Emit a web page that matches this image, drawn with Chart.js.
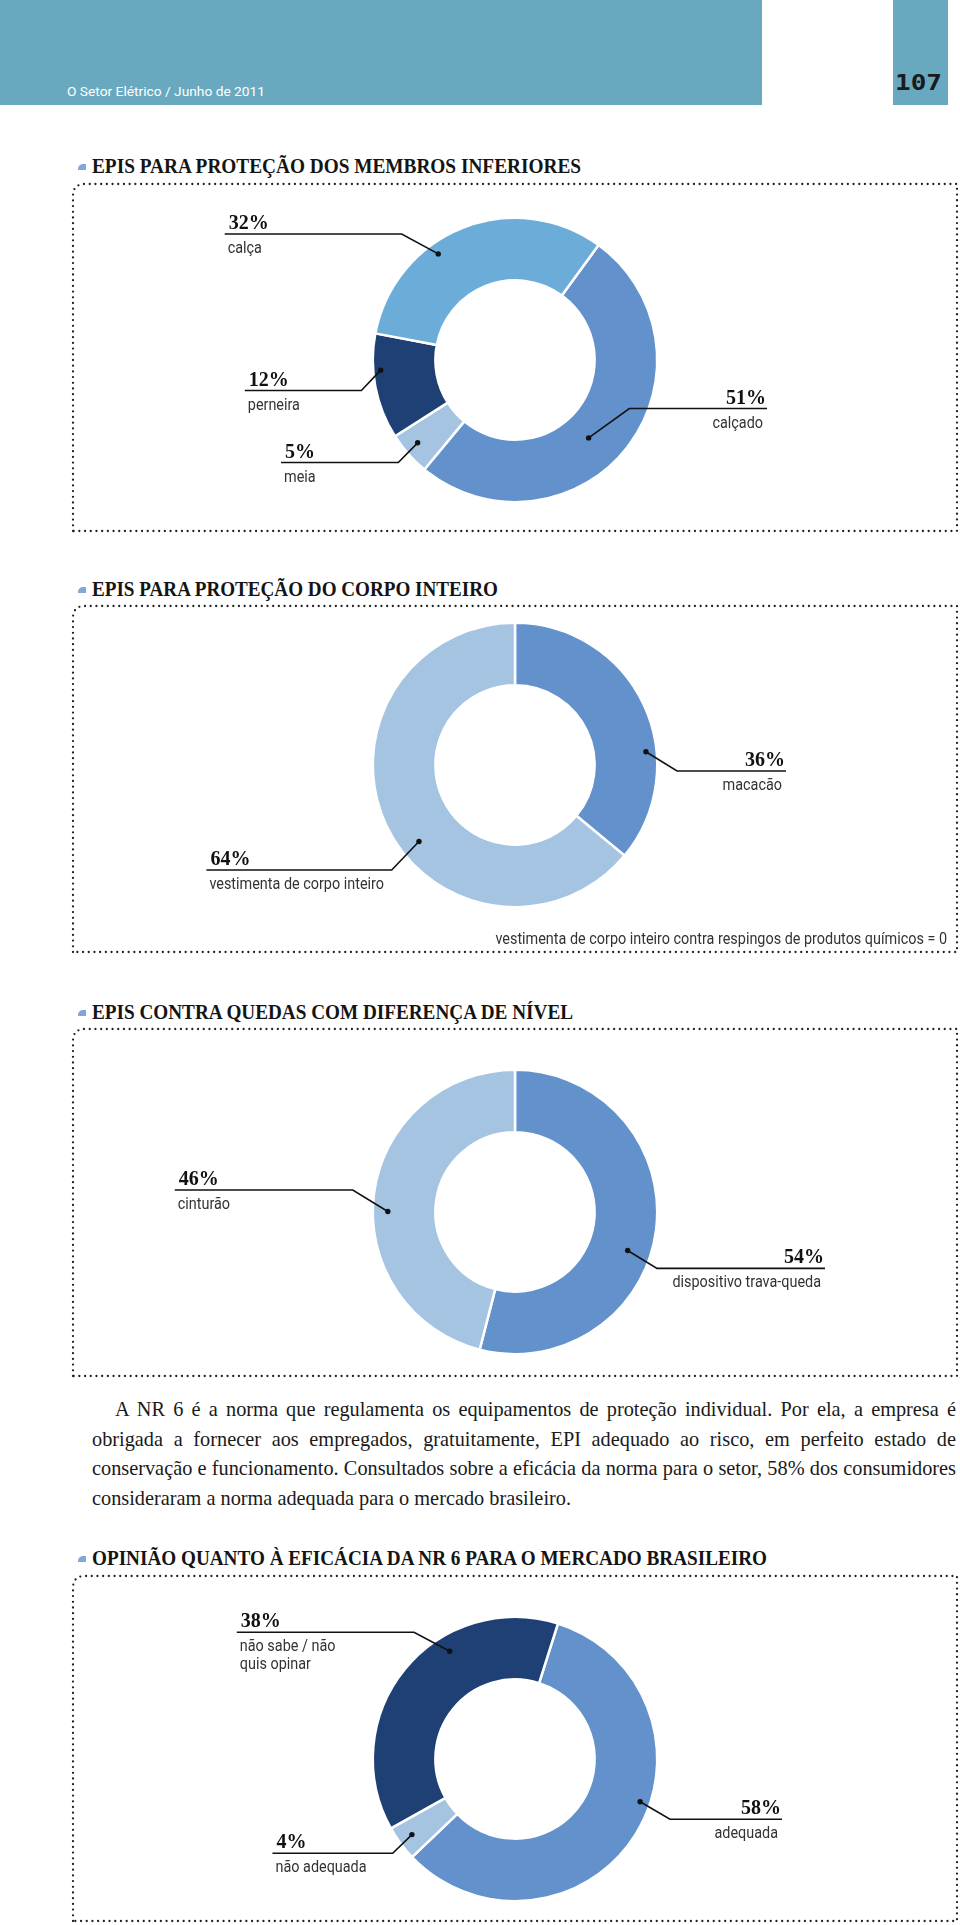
<!DOCTYPE html>
<html><head><meta charset="utf-8">
<script src="https://cdn.jsdelivr.net/npm/chart.js@4.4.1/dist/chart.umd.min.js"></script>
<style>
html,body{margin:0;padding:0;background:#fff;overflow:hidden;width:960px;height:1925px;}
#page{position:relative;width:960px;height:1925px;overflow:hidden;}
.abs{position:absolute;}
.band{background:#69a9bf;}
.title{position:absolute;left:92px;height:20px;line-height:20px;font:bold 20px "Liberation Serif",serif;color:#141414;white-space:nowrap;transform-origin:0 50%;}
.bullet{position:absolute;left:78px;width:8px;height:6px;background:#7fa7d8;border-top-left-radius:5px;}
#para{position:absolute;left:92px;width:864px;font-family:"Liberation Serif",serif;color:#1a1a1a;line-height:29.5px;}
#para div{text-align:justify;text-align-last:justify;white-space:nowrap;}
#para div.last{text-align-last:left;}
canvas{position:absolute;left:0;}
</style></head>
<body><div id="page">
<div class="abs band" style="left:0;top:0;width:762px;height:105px;"></div>
<div class="abs band" style="left:893px;top:0;width:55px;height:105px;"></div>
<div id="hdr" class="abs" style="left:67px;top:84px;font:12.5px Roboto,sans-serif;color:#fff;white-space:nowrap;transform-origin:0 50%;">O Setor Elétrico / Junho de 2011</div>
<div id="pnum" class="abs" style="left:895px;top:71px;font:bold 21px 'DejaVu Sans Mono',monospace;color:#1a1a1a;white-space:nowrap;transform-origin:0 50%;line-height:24px;">107</div>

<div class="bullet" style="top:164px;"></div><div class="title" id="t1" style="top:155px;">EPIS PARA PROTEÇÃO DOS MEMBROS INFERIORES</div>
<div class="bullet" style="top:587px;"></div><div class="title" id="t2" style="top:578px;">EPIS PARA PROTEÇÃO DO CORPO INTEIRO</div>
<div class="bullet" style="top:1010px;"></div><div class="title" id="t3" style="top:1001px;">EPIS CONTRA QUEDAS COM DIFERENÇA DE NÍVEL</div>
<div class="bullet" style="top:1556px;"></div><div class="title" id="t4" style="top:1547px;">OPINIÃO QUANTO À EFICÁCIA DA NR 6 PARA O MERCADO BRASILEIRO</div>

<svg class="abs" style="left:0;top:0;" width="960" height="1925">
<g fill="none" stroke="#222" stroke-width="2.3" stroke-linecap="round" stroke-dasharray="0 5.7">
<path d="M73,531 L73,196 Q73,184 85,184 L957,184 L957,531 Z"/>
<path d="M73,952 L73,618 Q73,606 85,606 L957,606 L957,952 Z"/>
<path d="M73,1376 L73,1041 Q73,1029 85,1029 L957,1029 L957,1376 Z"/>
<path d="M73,1921 L73,1588 Q73,1576 85,1576 L957,1576 L957,1921 Z"/>
</g></svg>

<div id="para" style="top:1395px;">
<div style="text-indent:23px;">A NR 6 é a norma que regulamenta os equipamentos de proteção individual. Por ela, a empresa é</div>
<div>obrigada a fornecer aos empregados, gratuitamente, EPI adequado ao risco, em perfeito estado de</div>
<div>conservação e funcionamento. Consultados sobre a eficácia da norma para o setor, 58% dos consumidores</div>
<div class="last">consideraram a norma adequada para o mercado brasileiro.</div>
</div>

<canvas id="c1" width="960" height="380"></canvas>
<canvas id="c2" width="960" height="380"></canvas>
<canvas id="c3" width="960" height="380"></canvas>
<canvas id="c4" width="960" height="380"></canvas>
</div>
<script>
// ---- data ----
const membrosCategorias = ['calçado', 'meia', 'perneira', 'calça'];
const membrosValores = [51, 5, 12, 32];
const corpoCategorias = ['macacão', 'vestimenta de corpo inteiro', 'vestimenta de corpo inteiro contra respingos de produtos químicos'];
const corpoValores = [36, 64, 0];
const quedasCategorias = ['dispositivo trava-queda', 'cinturão'];
const quedasValores = [54, 46];
const opiniaoCategorias = ['adequada', 'não adequada', 'não sabe / não quis opinar'];
const opiniaoValores = [58, 4, 38];

// ---- colours ----
const MED = '#6291cb', SKY = '#6cacd9', NAVY = '#1e4075', PALE = '#a4c4e2';

// ---- text fitting helpers ----
function fitX(id, target) {
  const e = document.getElementById(id);
  const w = e.getBoundingClientRect().width;
  e.style.transform = 'scaleX(' + (target / w) + ')';
}
fitX('t1', 489); fitX('t2', 406); fitX('t3', 481); fitX('t4', 675);
fitX('hdr', 198); fitX('pnum', 47);

(function fitPara() {
  const c = document.createElement('canvas').getContext('2d');
  c.font = '100px "Liberation Serif"';
  const w4 = c.measureText('consideraram a norma adequada para o mercado brasileiro.').width;
  const w3 = c.measureText('conservação e funcionamento. Consultados sobre a eficácia da norma para o setor, 58% dos consumidores').width;
  let size = 100 * 485 / w4;
  size = Math.min(size, 100 * 862 / w3);
  document.getElementById('para').style.fontSize = size.toFixed(2) + 'px';
})();

const LABEL_FONT = '16px Roboto';
const LABEL_SCALE = 0.9;

const leaderPlugin = {
  id: 'leaders',
  afterDatasetsDraw(chart, args, opts) {
    const ctx = chart.ctx;
    const meta = chart.getDatasetMeta(0);
    const ds = chart.data.datasets[0];
    let cx = 0, cy = 0;
    (opts.items || []).forEach(it => {
      const arc = meta.data[it.i];
      const p = arc.getProps(['x', 'y', 'startAngle', 'endAngle', 'innerRadius', 'outerRadius'], true);
      cx = p.x; cy = p.y;
      const a = p.startAngle + it.t * (p.endAngle - p.startAngle);
      const r = p.innerRadius + it.rf * (p.outerRadius - p.innerRadius);
      const dx = p.x + r * Math.cos(a), dy = p.y + r * Math.sin(a);
      const ex = p.x + it.ex, ey = p.y + it.ey, lx = p.x + it.end;
      const left = it.end < 0;
      ctx.save();
      ctx.strokeStyle = '#111'; ctx.lineWidth = 1.6; ctx.lineJoin = 'miter';
      ctx.beginPath(); ctx.moveTo(lx, ey); ctx.lineTo(ex, ey); ctx.lineTo(dx, dy); ctx.stroke();
      ctx.fillStyle = '#111';
      ctx.beginPath(); ctx.arc(dx, dy, 2.7, 0, Math.PI * 2); ctx.fill();
      ctx.font = 'bold 20px "Liberation Serif"';
      ctx.textBaseline = 'alphabetic';
      ctx.textAlign = left ? 'left' : 'right';
      ctx.fillText(ds.data[it.i] + '%', left ? lx + 4 : lx - 1, ey - 5);
      // category label (wrapped)
      ctx.font = LABEL_FONT; ctx.fillStyle = '#333'; ctx.textBaseline = 'middle';
      const words = String(chart.data.labels[it.i]).split(' ');
      const lines = []; let cur = '';
      words.forEach(wd => {
        const test = cur ? cur + ' ' + wd : wd;
        if (it.maxWidth && cur && ctx.measureText(test).width * LABEL_SCALE > it.maxWidth) { lines.push(cur); cur = wd; }
        else cur = test;
      });
      lines.push(cur);
      lines.forEach((ln, k) => {
        ctx.save();
        ctx.translate(left ? lx + 3 : lx - 4, ey + 15 + k * 17.5);
        ctx.scale(LABEL_SCALE, 1);
        ctx.fillText(ln, 0, 0);
        ctx.restore();
      });
      ctx.restore();
    });
    if (opts.note) {
      ctx.save();
      ctx.font = LABEL_FONT; ctx.fillStyle = '#333'; ctx.textBaseline = 'middle'; ctx.textAlign = 'right';
      ctx.translate(opts.note.x, cy + opts.note.dy);
      ctx.scale(LABEL_SCALE, 1);
      ctx.fillText(opts.note.text, 0, 0);
      ctx.restore();
    }
  }
};

function donut(id, cy, labels, values, colors, rotation, items, note) {
  const cv = document.getElementById(id);
  cv.style.top = (cy - 180) + 'px';
  return new Chart(cv, {
    type: 'doughnut',
    data: { labels: labels, datasets: [{ data: values, backgroundColor: colors, borderColor: '#ffffff', borderWidth: 2.5, hoverOffset: 0 }] },
    options: {
      responsive: false, animation: false, events: [],
      rotation: rotation, radius: 142.2, cutout: '56%',
      layout: { padding: { left: 70, right: 0, top: 0, bottom: 20 } },
      plugins: { legend: { display: false }, tooltip: { enabled: false }, leaders: { items: items, note: note } }
    },
    plugins: [leaderPlugin]
  });
}

donut('c1', 359.5, membrosCategorias, membrosValores, [MED, PALE, NAVY, SKY], 36, [
  { i: 3, t: 0.376, rf: 0.82, ex: -113.3, ey: -126, end: -290.3 },
  { i: 2, t: 0.65, rf: 0.88, ex: -153.6, ey: 30.5, end: -270.2 },
  { i: 1, t: 0.556, rf: 0.77, ex: -116.7, ey: 102.5, end: -234 },
  { i: 0, t: 0.548, rf: 0.44, ex: 114.3, ey: 48.5, end: 252 }
]);

donut('c2', 765, corpoCategorias, corpoValores, [MED, PALE, PALE], 0, [
  { i: 0, t: 0.65, rf: 0.83, ex: 162, ey: 6, end: 271 },
  { i: 1, t: 0.442, rf: 0.69, ex: -123.3, ey: 105, end: -308.6 }
], { x: 947, dy: 175, text: corpoCategorias[2] + ' = ' + corpoValores[2] });

donut('c3', 1212, quedasCategorias, quedasValores, [MED, PALE], 0, [
  { i: 1, t: 0.458, rf: 0.76, ex: -162.2, ey: -22, end: -340.2 },
  { i: 0, t: 0.56, rf: 0.63, ex: 142, ey: 56.4, end: 310 }
]);

donut('c4', 1758.7, opiniaoCategorias, opiniaoValores, [MED, PALE, NAVY], 17.6, [
  { i: 2, t: 0.643, rf: 0.74, ex: -101, ey: -126.7, end: -278.2, maxWidth: 120 },
  { i: 1, t: 0.51, rf: 0.77, ex: -122.3, ey: 94.3, end: -242.5 },
  { i: 0, t: 0.437, rf: 0.84, ex: 155, ey: 60.3, end: 267 }
]);
</script>
</body></html>
